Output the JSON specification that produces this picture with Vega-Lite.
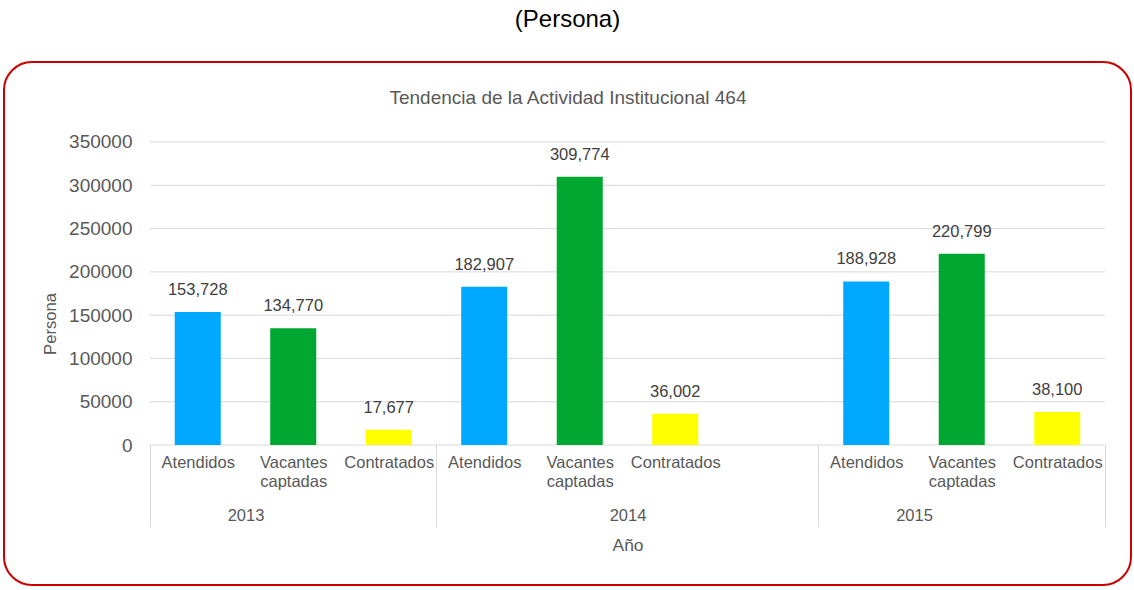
{
  "$schema": "https://vega.github.io/schema/vega-lite/v6.json",
  "width": 1127,
  "height": 523,
  "autosize": {"type": "none"},
  "padding": {"left": 4, "top": 62, "right": 3, "bottom": 5},
  "background": "white",
  "title": {
    "text": "(Persona)",
    "fontSize": 24,
    "font": "Liberation Sans",
    "fontWeight": "normal",
    "color": "#000000",
    "anchor": "middle",
    "offset": 30
  },
  "config": {
    "font": "Liberation Sans",
    "view": {"stroke": "#CC0000", "strokeWidth": 2, "cornerRadius": 28, "fill": "white"}
  },
  "datasets": {
    "barras": [
      {"clave": "2013|Atendidos", "anio": "2013", "categoria": "Atendidos", "valor": 153728},
      {"clave": "2013|Vacantes captadas", "anio": "2013", "categoria": "Vacantes captadas", "valor": 134770},
      {"clave": "2013|Contratados", "anio": "2013", "categoria": "Contratados", "valor": 17677},
      {"clave": "2014|Atendidos", "anio": "2014", "categoria": "Atendidos", "valor": 182907},
      {"clave": "2014|Vacantes captadas", "anio": "2014", "categoria": "Vacantes captadas", "valor": 309774},
      {"clave": "2014|Contratados", "anio": "2014", "categoria": "Contratados", "valor": 36002},
      {"clave": "2015|Atendidos", "anio": "2015", "categoria": "Atendidos", "valor": 188928},
      {"clave": "2015|Vacantes captadas", "anio": "2015", "categoria": "Vacantes captadas", "valor": 220799},
      {"clave": "2015|Contratados", "anio": "2015", "categoria": "Contratados", "valor": 38100}
    ],
    "rejilla": [
      {"valor": 0}, {"valor": 50000}, {"valor": 100000}, {"valor": 150000},
      {"valor": 200000}, {"valor": 250000}, {"valor": 300000}, {"valor": 350000}
    ]
  },
  "layer": [
    {
      "data": {"name": "rejilla"},
      "mark": {"type": "rule", "color": "#D9D9D9", "strokeWidth": 1},
      "encoding": {
        "y": {
          "field": "valor", "type": "quantitative",
          "scale": {"domain": [-161716, 442409], "nice": false, "zero": false},
          "axis": null
        },
        "x": {
          "datum": "2013|Atendidos", "type": "nominal", "bandPosition": 0,
          "scale": {
            "type": "band",
            "domain": ["2013|Atendidos", "2013|Vacantes captadas", "2013|Contratados", "2014|Atendidos", "2014|Vacantes captadas", "2014|Contratados", "2014|", "2015|Atendidos", "2015|Vacantes captadas", "2015|Contratados"],
            "paddingInner": 0, "paddingOuter": 0.9005, "align": 0.8488
          },
          "axis": {
            "orient": "top", "offset": -45, "labels": false, "ticks": false, "domain": false, "grid": false,
            "title": "Tendencia de la Actividad Institucional 464",
            "titleFontSize": 19, "titleFontWeight": "normal", "titleColor": "#595959", "titlePadding": 0
          }
        },
        "x2": {"datum": "2015|Contratados", "bandPosition": 1}
      }
    },
    {
      "data": {"name": "barras"},
      "mark": {"type": "bar", "width": {"band": 0.482}},
      "encoding": {
        "x": {
          "field": "clave", "type": "nominal",
          "scale": {
            "type": "band",
            "domain": ["2013|Atendidos", "2013|Vacantes captadas", "2013|Contratados", "2014|Atendidos", "2014|Vacantes captadas", "2014|Contratados", "2014|", "2015|Atendidos", "2015|Vacantes captadas", "2015|Contratados"],
            "paddingInner": 0, "paddingOuter": 0.9005, "align": 0.8488
          },
          "axis": {
            "orient": "bottom", "offset": -140, "domain": false, "grid": false,
            "ticks": true, "tickSize": 82, "tickOffset": -47.75, "tickWidth": 1,
            "tickColor": {"condition": {"test": "datum.value == '2013|Atendidos' || datum.value == '2014|Atendidos' || datum.value == '2015|Atendidos'", "value": "#D9D9D9"}, "value": "transparent"},
            "labelOffset": 47.75, "labelPadding": -73, "labelAngle": 0,
            "labelExpr": "indexof(datum.value,'Vacantes')>=0 ? ['Vacantes','captadas'] : slice(datum.value,5)",
            "labelFontSize": 16.5, "labelColor": "#595959", "labelLineHeight": 19,
            "title": null
          }
        },
        "y": {
          "field": "valor", "type": "quantitative",
          "scale": {"domain": [-161716, 442409], "nice": false, "zero": false},
          "axis": {
            "values": [0, 50000, 100000, 150000, 200000, 250000, 300000, 350000],
            "format": "d", "grid": false, "domain": false, "ticks": false,
            "offset": -146, "labelPadding": 18, "labelFontSize": 19, "labelColor": "#595959",
            "title": "Persona", "titleFontSize": 16.6, "titleFontWeight": "normal", "titleColor": "#595959", "titlePadding": 10
          }
        },
        "color": {
          "field": "categoria", "type": "nominal",
          "scale": {"domain": ["Atendidos", "Vacantes captadas", "Contratados"], "range": ["#00A8FF", "#00A832", "#FFFF00"]},
          "legend": null
        }
      }
    },
    {
      "data": {"name": "barras"},
      "mark": {"type": "text", "baseline": "alphabetic", "dy": -17, "fontSize": 16.5, "color": "#404040"},
      "encoding": {
        "x": {
          "field": "clave", "type": "nominal",
          "scale": {
            "type": "band",
            "domain": ["2013|Atendidos", "2013|Vacantes captadas", "2013|Contratados", "2014|Atendidos", "2014|Vacantes captadas", "2014|Contratados", "2014|", "2015|Atendidos", "2015|Vacantes captadas", "2015|Contratados"],
            "paddingInner": 0, "paddingOuter": 0.9005, "align": 0.8488
          },
          "axis": {
            "orient": "bottom", "offset": -140, "domain": false, "grid": false,
            "ticks": true, "tickSize": 82, "tickOffset": 47.75, "tickWidth": 1,
            "tickColor": {"condition": {"test": "datum.value == '2015|Contratados'", "value": "#D9D9D9"}, "value": "transparent"},
            "labelOffset": 0, "labelPadding": -20, "labelAngle": 0,
            "labelExpr": "datum.value == '2013|Atendidos' ? '2013' : datum.value == '2014|Vacantes captadas' ? '2014' : datum.value == '2015|Atendidos' ? '2015' : ''",
            "labelFontSize": 16.5, "labelColor": "#595959",
            "title": "Año", "titleFontSize": 17.4, "titleFontWeight": "normal", "titleColor": "#595959", "titlePadding": 9,
            "titleX": 623.5
          }
        },
        "y": {
          "field": "valor", "type": "quantitative",
          "scale": {"domain": [-161716, 442409], "nice": false, "zero": false},
          "axis": null
        },
        "text": {"field": "valor", "type": "quantitative", "format": ","}
      }
    }
  ],
  "resolve": {"axis": {"x": "independent", "y": "independent"}}
}
